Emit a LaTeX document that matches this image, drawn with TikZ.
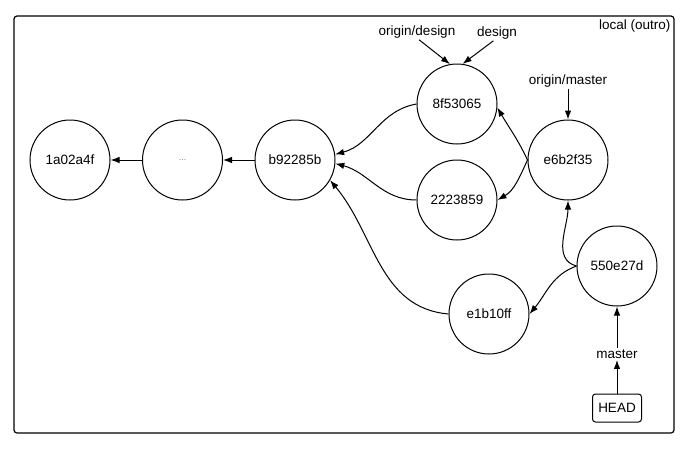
\documentclass[tikz,border=0pt]{standalone}
\usepackage{fontspec}
\setmainfont{Liberation Sans}
\usetikzlibrary{arrows.meta, positioning}

\begin{document}
\begin{tikzpicture}[
						x=1pt, y=-1pt,
						node distance={112.5pt},
						font=\fontsize{13.5}{15}\selectfont,
						line width=1pt,
						>={Latex[length=9pt,width=6.5pt]},
						round/.style = {draw, circle, minimum size=80pt, inner sep=0pt},
						noround/.style = {inner sep=1pt},
						square/.style = {draw, rectangle, rounded corners=3pt, minimum width=49pt, minimum height=28pt, inner sep=1pt},
					]

\useasboundingbox (0,0) rectangle (694,453);
\draw[rounded corners=3pt, line width=1.2pt] (14,16) rectangle (674,433);
\node[noround, anchor=north east] (0) at (672,18) {local (outro)};

\node[round] (1) at (70,160) {1a02a4f};
\node[round] (2) [right of=1] {\textcolor{gray}{\small ...}};
\node[round] (3) [right of=2] {b92285b};
\node[round] (4) at (457,104) {8f53065};
\node[round] (5) at (457,200) {2223859};
\node[round] (6) at (568,160) {e6b2f35};
\node[round] (7) at (617,266) {550e27d};
\node[round] (8) at (489,314) {e1b10ff};

\node[noround] (9) at (417,32) {origin/design};
\node[noround] (10) at (497,33) {design};
\node[noround] (11) at (568,81) {origin/master};
\node[noround] (12) at (617,354) {master};
\node[square] (13) at (617,408) {HEAD};

\draw[->] (2) -- (1);
\draw[->] (3) -- (2);
\draw[->] (4.west) to [out=190,in=15] (3.8);
\draw[->] (5.west) to [out=180,in=-15] (3.-5);
\draw[->] (8.west) to [out=175,in=-50] (3.-30);
\draw[->] (6.west) to [out=115,in=-60] (4.-5);
\draw[->] (6.west) to [out=-115,in=30] (5.east);
\draw[->] (7.west) to [out=200,in=50] (8.east);
\draw[->] (7.west) to [out=165,in=-90] (6.south);
\draw[->] (9.-75) -- (4.100);
\draw[->] (10.-115) -- (4.82);
\draw[->] (11) -- (6);
\draw[->] (12) -- (7);
\draw[->] (13) -- (12);

\end{tikzpicture}
\end{document}
